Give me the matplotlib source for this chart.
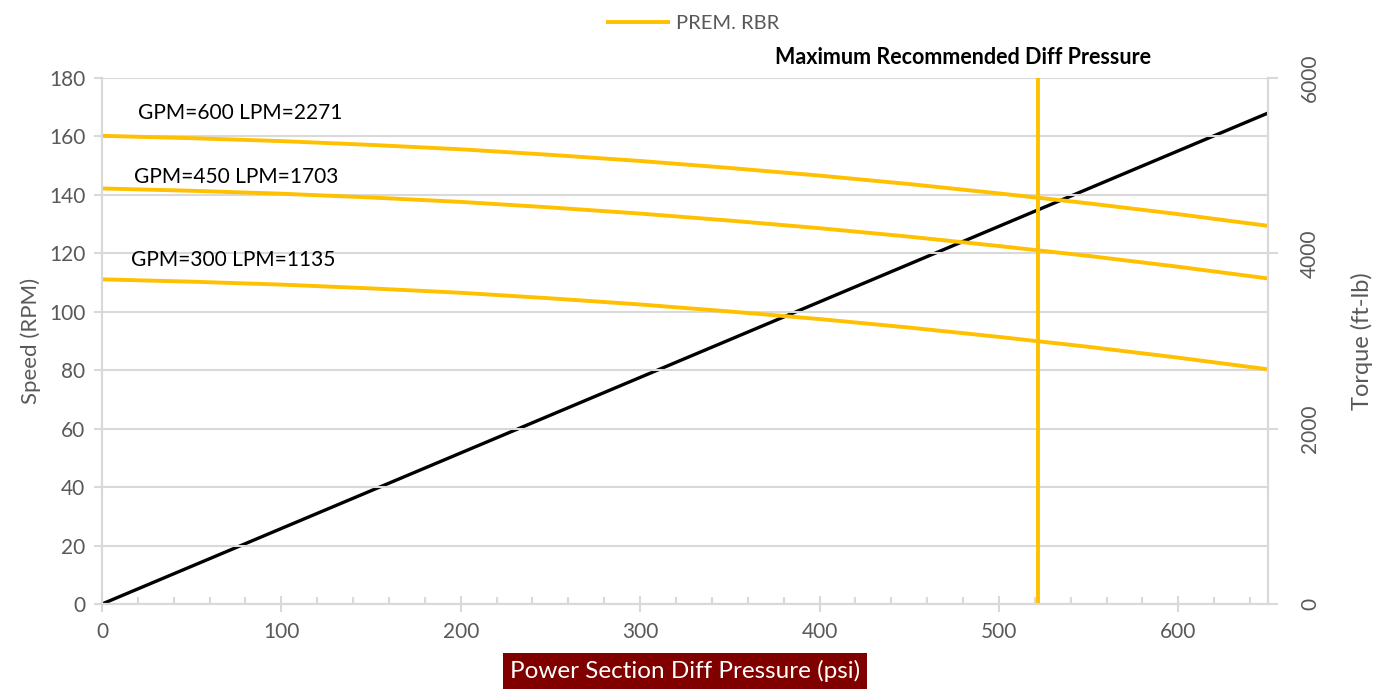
import matplotlib
matplotlib.use('Agg')
import matplotlib.pyplot as plt
from matplotlib.ticker import MultipleLocator

plt.rcParams['font.family'] = ['Lato', 'DejaVu Sans']

# data
pressure = [0, 50, 100, 150, 200, 250, 300, 350, 400, 450, 500, 550, 600, 650]
speed_600 = [160.2, 159.4, 158.4, 157.1, 155.6, 153.7, 151.6, 149.2, 146.6,
             143.7, 140.5, 137.1, 133.4, 129.4]
speed_450 = [142.2, 141.4, 140.4, 139.1, 137.6, 135.7, 133.6, 131.2, 128.6,
             125.7, 122.5, 119.1, 115.4, 111.4]
speed_300 = [111.1, 110.3, 109.3, 108.0, 106.5, 104.6, 102.5, 100.1, 97.5,
             94.6, 91.4, 88.0, 84.3, 80.3]
torque_pressure = [0, 650]
torque = [0, 5600]
max_diff_pressure = 522

curve_labels = ["GPM=600 LPM=2271", "GPM=450 LPM=1703", "GPM=300 LPM=1135"]
label_pos = [(20, 168), (18, 146), (16, 117.7)]

gold = '#FFC000'
grey_text = '#595959'
grey_line = '#D9D9D9'

fig = plt.figure(figsize=(13.87, 6.90), dpi=100)
ax = fig.add_axes([0.0735, 0.1246, 0.8407, 0.7624])
ax2 = ax.twinx()

# speed axis drawn above the torque axis
ax.set_zorder(2)
ax.patch.set_visible(False)

ax2.plot(torque_pressure, torque, color='black', lw=2.4, solid_capstyle='butt')

line, = ax.plot(pressure, speed_600, color=gold, lw=2.8, label='PREM. RBR')
ax.plot(pressure, speed_450, color=gold, lw=2.8)
ax.plot(pressure, speed_300, color=gold, lw=2.8)
ax.axvline(max_diff_pressure, color=gold, lw=2.8)

for txt, (x, y) in zip(curve_labels, label_pos):
    ax.text(x, y, txt, fontsize=15, color='black', va='center', ha='left')

ax.text(480, 187, "Maximum Recommended Diff Pressure", fontsize=15.5,
        fontweight='bold', ha='center', va='center', clip_on=False)

# axes ranges and ticks
ax.set_xlim(0, 650)
ax.set_ylim(0, 180)
ax2.set_ylim(0, 6000)
ax.xaxis.set_major_locator(MultipleLocator(100))
ax.xaxis.set_minor_locator(MultipleLocator(20))
ax.yaxis.set_major_locator(MultipleLocator(20))
ax2.yaxis.set_major_locator(MultipleLocator(2000))

ax.grid(axis='y', color=grey_line, lw=1.5, zorder=0)
ax.set_axisbelow(True)

for a in (ax, ax2):
    for s in a.spines.values():
        s.set_color(grey_line)
        s.set_linewidth(1.5)
    a.spines['top'].set_visible(False)

ax.tick_params(axis='x', which='major', direction='inout', length=12,
               color=grey_line, width=1.5, labelsize=15, labelcolor=grey_text, pad=7)
ax.tick_params(axis='x', which='minor', direction='in', length=5,
               color=grey_line, width=1.5)
ax.tick_params(axis='y', length=6, color=grey_line, width=1.5,
               labelsize=15, labelcolor=grey_text, pad=6)
ax2.tick_params(axis='y', length=7, color=grey_line, width=1.5,
                labelsize=15, labelcolor=grey_text, pad=16)
for lbl in ax2.get_yticklabels():
    lbl.set_rotation(90)
    lbl.set_va('center')

ax.set_ylabel("Speed (RPM)", fontsize=16, color=grey_text, labelpad=6)
ax2.set_ylabel("Torque (ft-lb)", fontsize=17, color=grey_text, labelpad=22)
ax.set_xlabel("Power Section Diff Pressure (psi)", fontsize=17.5, color='white',
              labelpad=13,
              bbox=dict(boxstyle='square,pad=0.28', fc='#800000', ec='none'))

fig.legend(handles=[line], loc='upper center', bbox_to_anchor=(0.5, 1.005),
           frameon=False, fontsize=14.5, labelcolor=grey_text,
           handlelength=3.0, handletextpad=0.4)

plt.savefig('out.png', dpi=100)
